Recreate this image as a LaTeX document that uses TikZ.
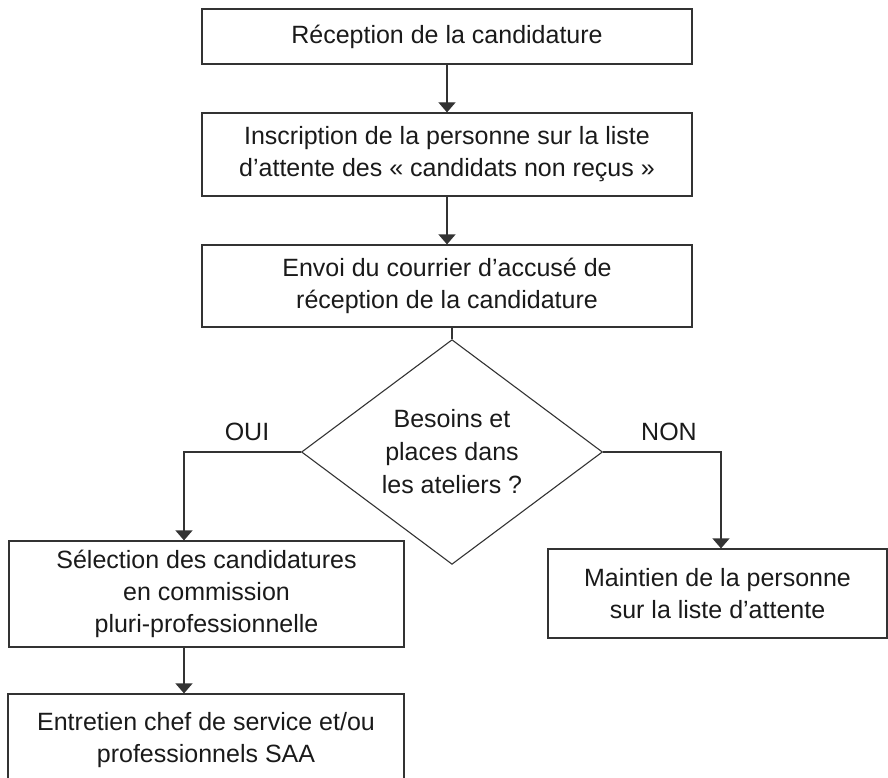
\documentclass[tikz,border=0pt]{standalone}
\usepackage{fontspec}
\setmainfont{Liberation Sans}
\usetikzlibrary{shapes.geometric,arrows.meta}
\definecolor{FlowLine}{HTML}{333333}
\definecolor{FlowText}{HTML}{1A1A1A}

\begin{document}
\begin{tikzpicture}[x=1pt, y=-1pt,
    box/.style={draw=FlowLine, line width=1.2pt, inner sep=0pt, align=center, text=FlowText,
        font=\fontsize{25}{32}\selectfont},
    decision/.style={draw=FlowLine, line width=1.1pt, diamond, inner sep=0pt, align=center, text=FlowText,
        minimum width=301pt, minimum height=192pt, font=\fontsize{25}{33}\selectfont},
    flow/.style={draw=FlowLine, line width=1.2pt},
    arrow/.style={flow, -{Triangle[width=17pt,length=10pt]}},
    answer/.style={text=FlowText, font=\fontsize{25}{30}\selectfont}]
    \useasboundingbox (0,0) rectangle (888,778);
                \node[box, minimum width=490pt, minimum height=55pt] (reception) at (447,36.5) {Réception de la candidature};
                \node[box, minimum width=490pt, minimum height=83pt] (inscription) at (447,154.5) {Inscription de la personne sur la liste\\d’attente des « candidats non reçus »};
                \node[box, minimum width=490pt, minimum height=82pt] (envoi) at (447,286) {Envoi du courrier d’accusé de\\réception de la candidature};
                \node[decision] (besoins) at (452,452) {Besoins et\\places dans\\les ateliers ?};
                \node[box, minimum width=395pt, minimum height=106pt] (selection) at (206.5,594) {Sélection des candidatures\\en commission\\pluri-professionnelle};
                \node[box, minimum width=339pt, minimum height=89pt] (maintien) at (717.5,593.5) {Maintien de la personne\\sur la liste d’attente};
                \node[box, minimum width=396pt, minimum height=92pt] (entretien) at (206,740) {Entretien chef de service et/ou\\professionnels SAA};
                \node[answer] (oui) at (247,432) {OUI};
                \node[answer] (non) at (669,432) {NON};
                \coordinate (ouicorner) at (184,452);
                \coordinate (noncorner) at (721,452);
                
                \draw[arrow] (reception) -- (inscription);
                \draw[arrow] (inscription) -- (envoi);
                \draw[flow] (envoi.south -| besoins.north) -- (besoins.north);
                \draw[arrow] (besoins.west) -- (ouicorner) -- (ouicorner |- selection.north);
                \draw[arrow] (besoins.east) -- (noncorner) -- (noncorner |- maintien.north);
                \draw[arrow] (selection.south -| ouicorner) -- (ouicorner |- entretien.north);
            \end{tikzpicture}
\end{document}
